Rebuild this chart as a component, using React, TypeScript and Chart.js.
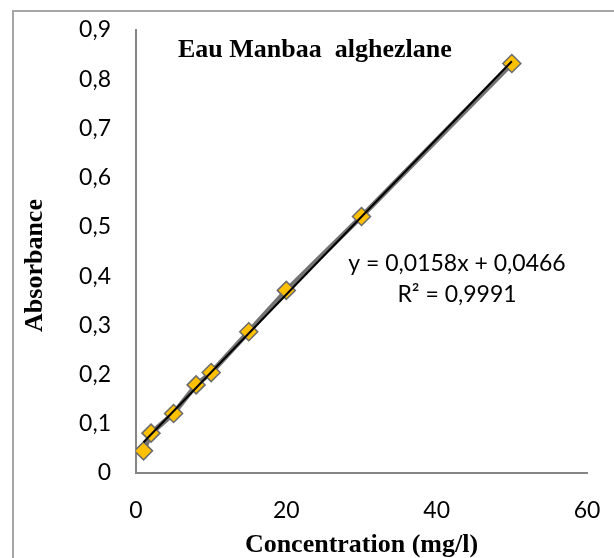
import React, { useEffect, useRef } from 'react';
import { Chart, registerables } from 'chart.js';

Chart.register(...registerables);

// ---- data ----
const concentration = [1, 2, 5, 8, 10, 15, 20, 30, 50];
const absorbance = [0.045, 0.081, 0.121, 0.179, 0.204, 0.287, 0.371, 0.521, 0.832];
const trendSlope = 0.0158;
const trendIntercept = 0.0466;
const xTickLabels = ['0', '20', '40', '60'];
const yTickLabels = ['0', '0,1', '0,2', '0,3', '0,4', '0,5', '0,6', '0,7', '0,8', '0,9'];
const chartTitle = 'Eau Manbaa  alghezlane';
const xAxisTitle = 'Concentration (mg/l)';
const yAxisTitle = 'Absorbance';
const equationText = 'y = 0,0158x + 0,0466';
const r2Text = 'R² = 0,9991';

const SANS = 'Lato, "Open Sans", sans-serif';
const SERIF = '"Liberation Serif", "Times New Roman", serif';

const decorPlugin = {
  id: 'decor',
  beforeDraw(chart: any) {
    const ctx = chart.ctx;
    ctx.save();
    ctx.strokeStyle = '#a6a6a6';
    ctx.lineWidth = 2;
    ctx.strokeRect(13, 11, 800, 800);
    ctx.restore();
  },
  afterDraw(chart: any) {
    const ctx = chart.ctx;
    const a = chart.chartArea;
    ctx.save();
    ctx.fillStyle = '#000';
    ctx.font = `bold 26px ${SERIF}`;
    ctx.textAlign = 'left';
    ctx.textBaseline = 'alphabetic';
    ctx.fillText(chartTitle, a.left + 42, a.top + 27);
    ctx.restore();

    ctx.save();
    ctx.fillStyle = '#000';
    ctx.font = `bold 26px ${SERIF}`;
    ctx.translate(35, (a.top + a.bottom) / 2 + 14);
    ctx.rotate(-Math.PI / 2);
    ctx.textAlign = 'center';
    ctx.textBaseline = 'middle';
    ctx.fillText(yAxisTitle, 0, 0);
    ctx.restore();

    ctx.save();
    ctx.fillStyle = '#000';
    ctx.font = `23px ${SANS}`;
    ctx.textAlign = 'center';
    ctx.textBaseline = 'alphabetic';
    ctx.fillText(equationText, a.left + 321, a.top + 241);
    ctx.fillText(r2Text, a.left + 321, a.top + 272);
    ctx.restore();
  },
};

export default function App() {
  const canvasRef = useRef<HTMLCanvasElement | null>(null);

  useEffect(() => {
    const canvas = canvasRef.current;
    if (!canvas) return;
    const xMin = Math.min(...concentration);
    const xMax = Math.max(...concentration);
    const trendData = [xMin, xMax].map((x) => ({ x, y: trendSlope * x + trendIntercept }));
    const points = concentration.map((x, i) => ({ x, y: absorbance[i] }));

    const chart = new Chart(canvas, {
      type: 'scatter',
      data: {
        datasets: [
          {
            label: 'Absorbance',
            data: points,
            showLine: true,
            borderColor: '#737373',
            borderWidth: 5,
            pointStyle: 'rectRot',
            pointRadius: 9,
            pointBackgroundColor: '#FFC000',
            pointBorderColor: '#6b6b6b',
            pointBorderWidth: 1.5,
            order: 1,
          },
          {
            label: 'Trend',
            data: trendData,
            showLine: true,
            borderColor: '#000000',
            borderWidth: 2,
            pointRadius: 0,
            order: 0,
          },
        ],
      },
      options: {
        animation: false,
        responsive: false,
        devicePixelRatio: 1,
        layout: { padding: { top: 30, right: 27, left: 0, bottom: 0 } },
        plugins: {
          legend: { display: false },
          tooltip: { enabled: false },
          title: { display: false },
        },
        scales: {
          x: {
            type: 'linear',
            min: 0,
            max: 60,
            grid: { display: false, drawTicks: false },
            border: { display: true, color: '#868686', width: 2 },
            ticks: {
              stepSize: 20,
              padding: 24,
              color: '#000',
              font: { family: SANS, size: 23 },
              callback: (_v: any, i: number) => xTickLabels[i],
            },
            title: {
              display: true,
              text: xAxisTitle,
              color: '#000',
              font: { family: SERIF, size: 26, weight: 'bold', lineHeight: 1 },
              padding: { top: 0, bottom: 0 },
            },
            afterFit: (scale: any) => {
              scale.height = 85;
              scale.paddingLeft = 0;
              scale.paddingRight = 0;
            },
          },
          y: {
            type: 'linear',
            min: 0,
            max: 0.9,
            grid: { display: false, drawTicks: false },
            border: { display: true, color: '#868686', width: 2 },
            ticks: {
              stepSize: 0.1,
              padding: 25,
              color: '#000',
              font: { family: SANS, size: 23 },
              callback: (_v: any, i: number) => yTickLabels[i],
            },
            afterFit: (scale: any) => {
              scale.width = 136;
              scale.paddingTop = 0;
              scale.paddingBottom = 0;
            },
          },
        },
      },
      plugins: [decorPlugin],
    } as any);

    if ((document as any).fonts && (document as any).fonts.ready) {
      (document as any).fonts.ready.then(() => chart.draw());
    }

    return () => chart.destroy();
  }, []);

  return (
    <div style={{ position: 'absolute', left: 0, top: 0, width: 614, height: 558, background: '#fff' }}>
      <canvas ref={canvasRef} width={614} height={558} style={{ display: 'block' }} />
    </div>
  );
}
